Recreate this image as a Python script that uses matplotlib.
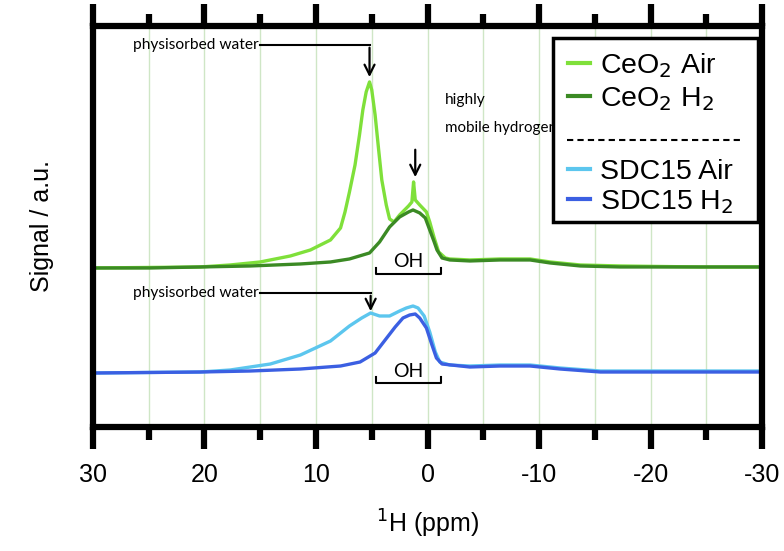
import numpy as np
import matplotlib
matplotlib.use("Agg")
import matplotlib.pyplot as plt
from matplotlib.patches import Rectangle

plt.rcParams['font.family'] = ['Liberation Sans', 'DejaVu Sans']
plt.rcParams['axes.unicode_minus'] = False

# chemical shift (ppm) and signal (a.u.)
ceo2_h2_ppm = [30.0, 24.9, 20.4, 15.9, 11.4, 8.7, 7.0, 5.2, 4.3, 3.4, 2.5, 1.7, 1.3, 0.7, 0.2,
               -0.2, -0.6, -0.85, -1.3, -2.0, -3.8, -6.5, -9.2, -11.0, -13.7, -17.3, -24.4, -30.0]
ceo2_h2_sig = [159, 159, 160, 161, 163, 165, 168, 174, 185, 200, 210, 215, 217, 214, 209,
               197, 185, 177, 169, 167, 166, 167, 167, 164, 161, 160, 160, 160]

ceo2_air_ppm = [30.0, 20.4, 17.7, 15.0, 12.3, 10.5, 8.7, 7.8, 7.4, 7.0, 6.5, 6.1, 5.8, 5.5, 5.2,
                5.0, 4.7, 4.4, 4.1, 3.7, 3.4, 3.0, 2.5, 1.7, 1.4, 1.25, 1.1, 0.7, 0.1, -0.2,
                -0.6, -1.0, -1.6, -2.0, -3.8, -6.5, -9.2, -11.0, -13.7, -17.3, -24.4, -30.0]
ceo2_air_sig = [159, 160, 162, 165, 171, 177, 187, 199, 215, 235, 262, 292, 317, 335, 345,
                337, 312, 279, 247, 222, 208, 205, 212, 221, 225, 245, 227, 222, 215, 205,
                189, 175, 169, 168, 167, 168, 168, 165, 162, 161, 160, 160]

sdc_h2_ppm = [30.0, 20.4, 15.9, 11.4, 7.8, 6.05, 4.7, 3.8, 2.9, 2.2, 1.6, 1.1, 0.7, 0.1,
              -0.4, -0.8, -1.3, -3.8, -6.5, -9.2, -11.9, -15.5, -24.4, -30.0]
sdc_h2_sig = [54, 55, 56, 58, 61, 65, 74, 87, 100, 109, 112, 113, 109, 99,
              82, 69, 63, 60, 61, 61, 58, 55, 55, 55]

sdc_air_ppm = [30.0, 20.4, 17.7, 14.1, 11.4, 8.7, 7.0, 5.9, 5.1, 4.3, 3.4, 2.5, 1.9, 1.3,
               0.85, 0.3, -0.2, -0.7, -1.1, -2.0, -3.8, -6.5, -9.2, -11.9, -15.5, -24.4, -30.0]
sdc_air_sig = [54, 55, 57, 63, 72, 86, 101, 109, 114, 111, 111, 116, 119, 121,
               119, 111, 95, 75, 65, 62, 61, 62, 62, 59, 56, 56, 56]

labels = ['CeO$_2$ Air', 'CeO$_2$ H$_2$', 'SDC15 Air', 'SDC15 H$_2$']
colors = ['#7fe03a', '#3b8a24', '#5cc6ee', '#3b5fe2']

fig = plt.figure(figsize=(7.84, 5.51), dpi=100)
ax = fig.add_axes([0.1186, 0.225, 0.8534, 0.728])

for v in np.arange(-25, 30, 5):
    ax.axvline(v, color='#cfe6c6', lw=1, zorder=0)

ax.plot(ceo2_air_ppm, ceo2_air_sig, color=colors[0], lw=2.4)
ax.plot(ceo2_h2_ppm, ceo2_h2_sig, color=colors[1], lw=2.4)
ax.plot(sdc_air_ppm, sdc_air_sig, color=colors[2], lw=2.4)
ax.plot(sdc_h2_ppm, sdc_h2_sig, color=colors[3], lw=2.4)

ax.set_xlim(30, -30)
ax.set_ylim(0, 401)
ax.set_yticks([])
ax.set_xticks(np.arange(30, -31, -10))
ax.set_xticks(np.arange(25, -30, -10), minor=True)
ax.tick_params(axis='x', which='major', direction='out', length=16, width=4.5,
               top=True, labelsize=18, pad=10)
ax.tick_params(axis='x', which='minor', direction='out', length=9, width=4.5, top=True)
for s in ax.spines.values():
    s.set_linewidth(4.5)

ax.set_xlabel('$^{1}$H (ppm)', fontsize=18, labelpad=15)
ax.set_ylabel('Signal / a.u.', fontsize=18, labelpad=28)

# annotations
afont = dict(family=['Lato', 'DejaVu Sans'], fontsize=11.2)
arw = dict(arrowstyle='->', lw=1.6, color='black', mutation_scale=18)
ax.text(15.1, 382, 'physisorbed water', ha='right', va='center', **afont)
ax.plot([15.0, 5.2], [382, 382], color='black', lw=1.5)
ax.annotate('', xy=(5.2, 347), xytext=(5.2, 382), arrowprops=arw)

ax.text(15.1, 134, 'physisorbed water', ha='right', va='center', **afont)
ax.plot([15.0, 5.1], [134, 134], color='black', lw=1.5)
ax.annotate('', xy=(5.1, 113), xytext=(5.1, 134), arrowprops=arw)

ax.text(-1.55, 327, 'highly', ha='left', va='center', **afont)
ax.text(-1.55, 299, 'mobile hydrogen', ha='left', va='center', **dict(afont, fontsize=10.9))
ax.annotate('', xy=(1.1, 247), xytext=(1.1, 280), arrowprops=arw)

for ty, by in [(165, 153), (56, 44)]:
    ax.text(1.7, ty, 'OH', ha='center', va='center', **dict(afont, fontsize=14))
    ax.plot([4.6, 4.6, -1.2, -1.2], [by + 6, by, by, by + 6], color='black', lw=1.5)

# legend box with a dashed divider between the two samples
T = ax.transAxes
ax.add_patch(Rectangle((0.6876, 0.511), 0.3064, 0.459, transform=T, facecolor='white',
                       edgecolor='black', lw=2.5, zorder=8))
rows = [0.882, 0.7995, 0.618, 0.543]
for lab, col, yb in zip(labels, colors, rows):
    ax.plot([0.710, 0.743], [yb + 0.025, yb + 0.025], transform=T, color=col, lw=3, zorder=9)
    ax.text(0.758, yb, lab, transform=T, fontsize=20.5, va='baseline', ha='left', zorder=9)
ax.plot([0.708, 0.972], [0.716, 0.716], transform=T, color='black', lw=1.5,
        ls=(0, (3, 2)), zorder=9)

fig.savefig('out.png', dpi=100)
